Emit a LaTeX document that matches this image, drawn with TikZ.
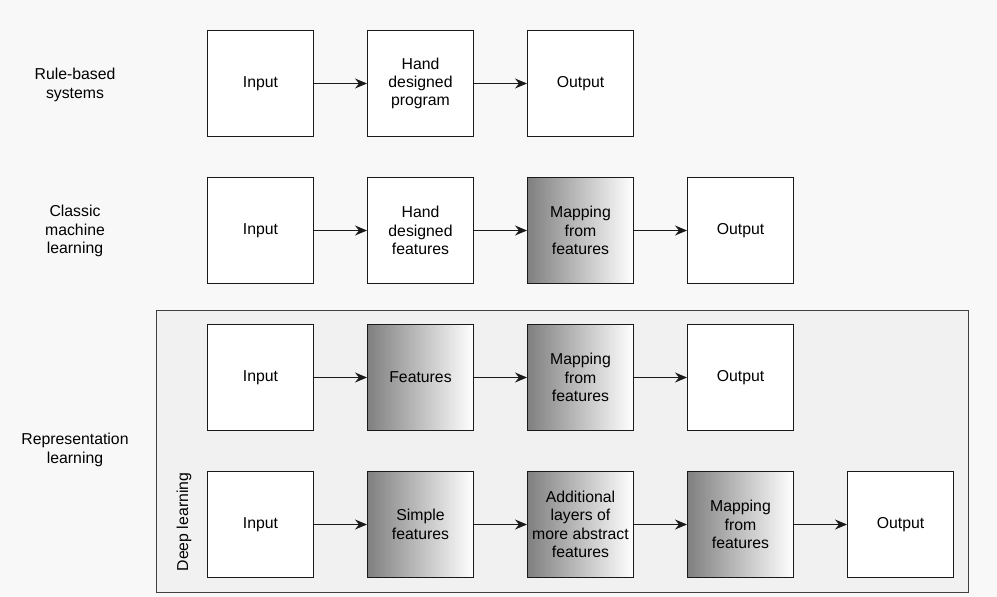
\documentclass[tikz,border=0pt]{standalone}
\usepackage{fontspec}
\setmainfont{Liberation Sans}
\usetikzlibrary{arrows.meta,shadings}
\definecolor{bg}{HTML}{F8F8F8}
\definecolor{panel}{HTML}{F1F1F1}
\definecolor{ln}{HTML}{1A1A1A}
\begin{document}
\begin{tikzpicture}[x=1pt,y=-1pt,
  txt/.style={font=\fontsize{15.8}{18.4}\selectfont, align=center},
  box/.style={txt, draw=ln, line width=1pt, fill=white, minimum width=106pt, minimum height=106pt, inner sep=0pt, anchor=north west},
  gbox/.style={txt, draw=ln, line width=1pt, left color=black!50, right color=white, minimum width=106pt, minimum height=106pt, inner sep=0pt, anchor=north west},
  arr/.style={draw=ln, line width=1pt, -{Stealth[length=12pt,width=10pt,inset=4pt]}}
]
\fill[bg] (0,0) rectangle (997,597);
\useasboundingbox (0,0) rectangle (997,597);
% panel
\draw[fill=panel, draw=black!75, line width=1pt] (156,310) rectangle (968,592);

% labels
\node[txt] (l1) at (75,85) {Rule-based\\systems};
\node[txt] (l2) at (75,231) {Classic\\machine\\learning};
\node[txt] (l3) at (75,450) {Representation\\learning};
\node[txt, rotate=90] (l4) at (184,522) {Deep learning};

% row 1
\node[box] (a1) at (207,30) {Input};
\node[box] (b1) at (367,30) {Hand\\designed\\program};
\node[box] (c1) at (527,30) {Output};
\draw[arr] (a1.east) -- (b1.west);
\draw[arr] (b1.east) -- (c1.west);

% row 2
\node[box] (a2) at (207,177) {Input};
\node[box] (b2) at (367,177) {Hand\\designed\\features};
\node[gbox] (c2) at (527,177) {Mapping\\from\\features};
\node[box] (d2) at (687,177) {Output};
\draw[arr] (a2.east) -- (b2.west);
\draw[arr] (b2.east) -- (c2.west);
\draw[arr] (c2.east) -- (d2.west);

% row 3
\node[box] (a3) at (207,324) {Input};
\node[gbox] (b3) at (367,324) {Features};
\node[gbox] (c3) at (527,324) {Mapping\\from\\features};
\node[box] (d3) at (687,324) {Output};
\draw[arr] (a3.east) -- (b3.west);
\draw[arr] (b3.east) -- (c3.west);
\draw[arr] (c3.east) -- (d3.west);

% row 4
\node[box] (a4) at (207,471) {Input};
\node[gbox] (b4) at (367,471) {Simple\\features};
\node[gbox] (c4) at (527,471) {Additional\\layers of\\more abstract\\features};
\node[gbox] (d4) at (687,471) {Mapping\\from\\features};
\node[box] (e4) at (847,471) {Output};
\draw[arr] (a4.east) -- (b4.west);
\draw[arr] (b4.east) -- (c4.west);
\draw[arr] (c4.east) -- (d4.west);
\draw[arr] (d4.east) -- (e4.west);
\end{tikzpicture}
\end{document}
